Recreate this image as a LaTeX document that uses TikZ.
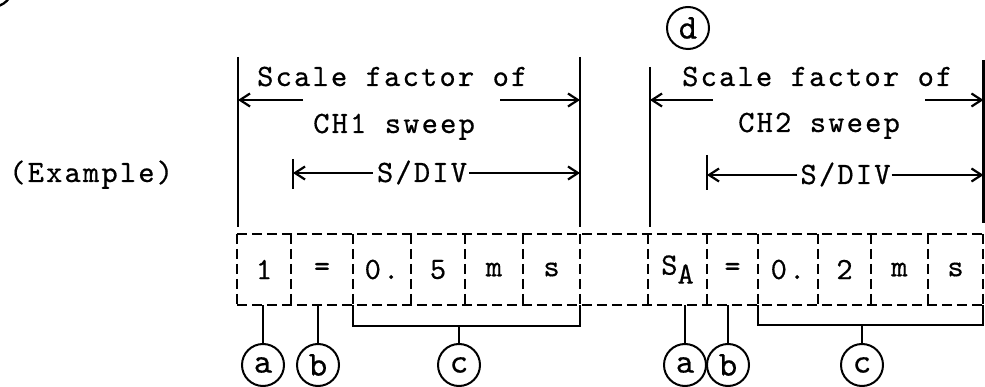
\documentclass[tikz,border=0pt]{standalone}
\usepackage{fontspec}
\newfontfamily\monof{lmmono10-regular.otf}[LetterSpace=7,FakeBold=0.5]
\usetikzlibrary{arrows.meta}
\tikzset{
  txt/.style={font=\monof\fontsize{31}{31}\selectfont, inner sep=0pt},
  cellbox/.style={font=\monof\fontsize{31}{31}\selectfont, inner sep=0pt, minimum height=71pt, draw=none},
  tag/.style={circle, draw, line width=2pt, minimum size=42pt, inner sep=0pt, font=\monof\fontsize{35}{35}\selectfont},
  solid line/.style={line width=2.3pt},
  dash line/.style={line width=2.2pt, dash pattern=on 10pt off 5pt},
  arr/.style={line width=2.3pt, -{Straight Barb[length=10pt,width=13pt,line width=2.2pt]}},
}
\begin{document}
\begin{tikzpicture}[x=1pt,y=-1pt]
\useasboundingbox (0,0) rectangle (985,387);

% partial circle at top-left corner
\draw[solid line] (-8,-14) circle (21);

% label
\node[txt, anchor=base west] (ex) at (9,182) {(Example)};

% cells
\node[cellbox, minimum width=54pt] (c1) at (264,269.5) {1};
\node[cellbox, minimum width=62pt] (c2) at (322,269.5) {=};
\node[cellbox, minimum width=58pt] (c3) at (382,269.5) {0.};
\node[cellbox, minimum width=54pt] (c4) at (438,269.5) {5};
\node[cellbox, minimum width=58pt] (c5) at (494,269.5) {m};
\node[cellbox, minimum width=57pt] (c6) at (551.5,269.5) {s};
\node[cellbox, minimum width=68pt] (g)  at (614,269.5) {};
\node[cellbox, minimum width=59pt] (d1) at (677.5,269.5) {S\raisebox{-9pt}{A}};
\node[cellbox, minimum width=51pt] (d2) at (732.5,269.5) {=};
\node[cellbox, minimum width=60pt] (d3) at (788,269.5) {0.};
\node[cellbox, minimum width=53pt] (d4) at (844.5,269.5) {2};
\node[cellbox, minimum width=57pt] (d5) at (899.5,269.5) {m};
\node[cellbox, minimum width=55pt] (d6) at (955.5,269.5) {s};

% dashed grid
\draw[dash line] (c1.north west) -- (d6.north east);
\draw[dash line] (c1.south west) -- (d6.south east);
\foreach \n in {c1,c2,c3,c4,c5,c6,g,d1,d2,d3,d4,d5,d6}
  \draw[dash line] (\n.north west) -- (\n.south west);
\draw[dash line] (d6.north east) -- (d6.south east);

% tags
\node[tag] (ta1) at (263,365) {a};
\node[tag] (tb1) at (318,365) {b};
\node[tag] (tc1) at (459,365) {c};
\node[tag] (ta2) at (685,365) {a};
\node[tag] (tb2) at (728,365) {b};
\node[tag] (tc2) at (862,365) {c};
\node[tag] (td)  at (688,28) {d};

\draw[solid line] (ta1 |- c1.south) -- (ta1.north);
\draw[solid line] (tb1 |- c2.south) -- (tb1.north);
\draw[solid line] (ta2 |- d1.south) -- (ta2.north);
\draw[solid line] (tb2 |- d2.south) -- (tb2.north);

% brackets
\coordinate (k1) at (459,326);
\coordinate (k2) at (862,325);
\draw[solid line] (c3.south west) |- (k1) -| (c6.south east);
\draw[solid line] (k1) -- (tc1.north);
\draw[solid line] (d3.south west) |- (k2) -| (d6.south east);
\draw[solid line] (k2) -- (tc2.north);

% left group
\coordinate (L1t) at (238,57);  \coordinate (L1b) at (238,227);
\coordinate (R1t) at (580,57);  \coordinate (R1b) at (580,227);
\draw[solid line] (L1t) -- (L1b);
\draw[solid line] (R1t) -- (R1b);
\node[txt, anchor=base west] (sf1) at (257,86) {Scale factor of};
\node[txt, anchor=base west] (ch1) at (313,133) {CH1 sweep};
\coordinate (a1s) at (303,100);
\coordinate (a1e) at (500,100);
\draw[arr] (a1s) -- (L1t |- a1s);
\draw[arr] (a1e) -- (R1t |- a1e);
\coordinate (t1t) at (293,159); \coordinate (t1b) at (293,189);
\draw[solid line] (t1t) -- (t1b);
\node[txt, anchor=base] (sd1) at (422,182) {S/DIV};
\draw[arr] (sd1.west |- 0,173) ++(-4,0) -- (t1t |- 0,173);
\draw[arr] (sd1.east |- 0,173) ++(2,0) -- (R1t |- 0,173);

% right group
\coordinate (L2t) at (650,67);  \coordinate (L2b) at (650,227);
\coordinate (R2t) at (983.5,60);  \coordinate (R2b) at (983.5,223);
\draw[solid line] (L2t) -- (L2b);
\draw[solid line] (R2t) -- (R2b);
\node[txt, anchor=base west] (sf2) at (682,86) {Scale factor of};
\node[txt, anchor=base west] (ch2) at (738,132) {CH2 sweep};
\coordinate (a2s) at (713,100);
\coordinate (a2e) at (925,100);
\draw[arr] (a2s) -- (L2t |- a2s);
\draw[arr] (a2e) -- (R2t |- a2e);
\coordinate (t2t) at (707,155); \coordinate (t2b) at (707,190);
\draw[solid line] (t2t) -- (t2b);
\node[txt, anchor=base] (sd2) at (845.5,184) {S/DIV};
\draw[arr] (sd2.west |- 0,175) ++(-3,0) -- (t2t |- 0,175);
\draw[arr] (sd2.east |- 0,175) ++(1,0) -- (R2t |- 0,175);
\end{tikzpicture}
\end{document}
